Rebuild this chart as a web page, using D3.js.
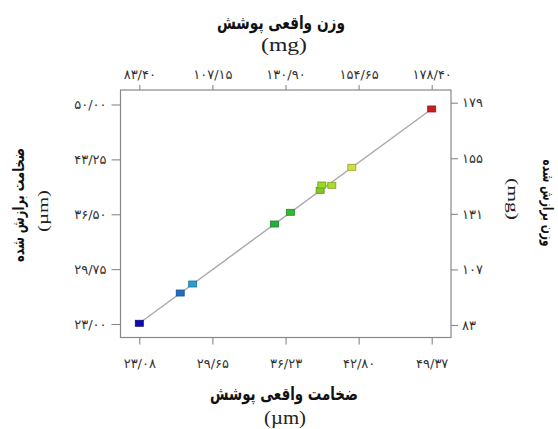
<!DOCTYPE html>
<html>
<head>
<meta charset="utf-8">
<script src="https://cdn.jsdelivr.net/npm/d3@7"></script>
<style>
  html, body { margin: 0; padding: 0; background: #fff; }
  svg { display: block; }
  .tick text { font-family: "DejaVu Sans", sans-serif; fill: #333; }
</style>
</head>
<body>
<svg id="chart" width="558" height="429"></svg>
<script>
// bottom axis: actual coating thickness (µm)
const xTicks = [23.08, 29.65, 36.23, 42.80, 49.37]
const xTickLabels = ["۲۳/۰۸", "۲۹/۶۵", "۳۶/۲۳", "۴۲/۸۰", "۴۹/۳۷"]
// top axis: actual coating weight (mg)
const topTicks = [83.40, 107.15, 130.90, 154.65, 178.40]
const topTickLabels = ["۸۳/۴۰", "۱۰۷/۱۵", "۱۳۰/۹۰", "۱۵۴/۶۵", "۱۷۸/۴۰"]
// left axis: fitted thickness (µm)
const yTicks = [23.00, 29.75, 36.50, 43.25, 50.00]
const yTickLabels = ["۲۳/۰۰", "۲۹/۷۵", "۳۶/۵۰", "۴۳/۲۵", "۵۰/۰۰"]
// right axis: fitted weight (mg)
const rightTicks = [83, 107, 131, 155, 179]
const rightTickLabels = ["۸۳", "۱۰۷", "۱۳۱", "۱۵۵", "۱۷۹"]

// points
const actual = [23.08, 26.76, 27.88, 35.24, 36.68, 39.34, 39.49, 40.39, 42.19, 49.37]
const fitted = [23.09, 26.81, 27.92, 35.30, 36.74, 39.44, 40.10, 40.06, 42.28, 49.45]
const pointColors = ["#0c0cb0", "#1e6ec4", "#2a9ccf", "#22b13a", "#33bb30", "#7ccb22", "#9ad826", "#a9dc2c", "#cfe03a", "#cc1c1c"]
// fit line ends
const lineX = [23.08, 49.37]
const lineY = [23.09, 49.45]

const box = { left: 120.5, right: 451, top: 90, bottom: 337.5 }

const svg = d3.select("#chart")

const x = d3.scaleLinear().domain([23.08, 49.37]).range([139.3, 431.7])
const xTop = d3.scaleLinear().domain([83.40, 178.40]).range([139.3, 431.7])
const y = d3.scaleLinear().domain([23, 50]).range([324, 104.5])
const yRight = d3.scaleLinear().domain([83, 179]).range([325, 102.7])

const styleAxis = g => {
    g.select(".domain").remove()
    g.selectAll(".tick line").attr("stroke", "#888").attr("stroke-width", 1.1)
    g.selectAll(".tick text").style("font-size", "13px")
}

svg.append("g")
    .attr("transform", `translate(0,${box.bottom})`)
    .call(d3.axisBottom(x).tickValues(xTicks).tickFormat((d, i) => xTickLabels[i]).tickSize(7).tickPadding(14))
    .call(styleAxis)

svg.append("g")
    .attr("transform", `translate(0,${box.top})`)
    .call(d3.axisTop(xTop).tickValues(topTicks).tickFormat((d, i) => topTickLabels[i]).tickSize(5).tickPadding(6))
    .call(styleAxis)

svg.append("g")
    .attr("transform", `translate(${box.left},0)`)
    .call(d3.axisLeft(y).tickValues(yTicks).tickFormat((d, i) => yTickLabels[i]).tickSize(9).tickPadding(5))
    .call(styleAxis)

svg.append("g")
    .attr("transform", `translate(${box.right},0)`)
    .call(d3.axisRight(yRight).tickValues(rightTicks).tickFormat((d, i) => rightTickLabels[i]).tickSize(7).tickPadding(4))
    .call(styleAxis)

// frame
svg.append("rect")
    .attr("x", box.left)
    .attr("y", box.top)
    .attr("width", box.right - box.left)
    .attr("height", box.bottom - box.top)
    .attr("fill", "none")
    .attr("stroke", "#888")
    .attr("stroke-width", 1.2)

// fit line
svg.append("line")
    .attr("x1", x(lineX[0])).attr("y1", y(lineY[0]))
    .attr("x2", x(lineX[1])).attr("y2", y(lineY[1]))
    .attr("stroke", "#a8a8a8")
    .attr("stroke-width", 1.4)

svg.selectAll(".pt")
    .data(actual)
    .join("rect")
    .attr("class", "pt")
    .attr("x", d => x(d) - 4)
    .attr("y", (d, i) => y(fitted[i]) - 3)
    .attr("width", 8)
    .attr("height", 6)
    .attr("fill", (d, i) => pointColors[i])
    .attr("stroke", (d, i) => d3.color(pointColors[i]).darker(0.9))
    .attr("stroke-width", 0.8)

// titles
const titleFont = "'DejaVu Sans', sans-serif"
const unitFont = "'Liberation Serif', 'DejaVu Serif', serif"

const addTitle = (o) => {
    const g = svg.append("g").attr("transform", `translate(${o.x},${o.y}) rotate(${o.rot})`)
    g.append("text")
        .attr("text-anchor", "middle")
        .attr("font-family", titleFont)
        .attr("font-weight", "bold")
        .attr("font-size", o.size)
        .attr("textLength", o.len)
        .attr("lengthAdjust", "spacingAndGlyphs")
        .attr("fill", "#111")
        .text(o.title)
    g.append("text")
        .attr("x", o.unitDx)
        .attr("y", o.unitDy)
        .attr("text-anchor", "middle")
        .attr("font-family", unitFont)
        .attr("font-size", o.unitSize)
        .attr("textLength", o.unitLen)
        .attr("lengthAdjust", "spacingAndGlyphs")
        .attr("fill", "#222")
        .text(o.unit)
}

addTitle({ x: 281, y: 29, rot: 0, title: "وزن واقعی پوشش", size: 18, len: 128, unit: "(mg)", unitDx: 3, unitDy: 22, unitSize: 19, unitLen: 46 })
addTitle({ x: 284, y: 400, rot: 0, title: "ضخامت واقعی پوشش", size: 18, len: 148, unit: "(µm)", unitDx: 1, unitDy: 24, unitSize: 18, unitLen: 42 })
addTitle({ x: 24, y: 205, rot: -90, title: "ضخامت برازش شده", size: 16, len: 114, unit: "(µm)", unitDx: -6, unitDy: 24, unitSize: 15, unitLen: 42 })
addTitle({ x: 543, y: 203, rot: 90, title: "وزن برازش شده", size: 15, len: 87, unit: "(mg)", unitDx: -4, unitDy: 35, unitSize: 15, unitLen: 42 })
</script>
</body>
</html>
